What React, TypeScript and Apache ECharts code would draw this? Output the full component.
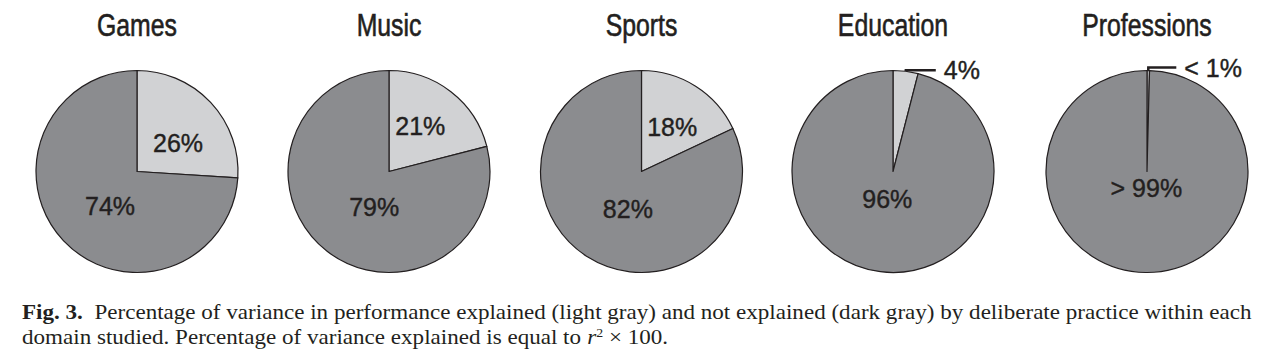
import React, { useEffect, useRef } from "react";
import * as echarts from "echarts";

// ---- data ----
const domains = ["Games", "Music", "Sports", "Education", "Professions"];
const explained = [26, 21, 18, 4, 0.4];
const unexplained = [74, 79, 82, 96, 99.6];
const explainedLabels = ["26%", "21%", "18%", "4%", "< 1%"];
const unexplainedLabels = ["74%", "79%", "82%", "96%", "> 99%"];
const captionBold = "Fig. 3.";
const captionLine1 =
  "Percentage of variance in performance explained (light gray) and not explained (dark gray) by deliberate practice within each";
const captionLine2a = "domain studied. Percentage of variance explained is equal to ";
const captionLine2b = " × 100.";

// ---- layout / style ----
const centersX = [137, 389, 641.5, 893, 1147];
const centerY = 171.5;
const radius = 101;
const outsideIdx = [false, false, false, true, true];
// label nudges relative to ECharts "inside" position
const lightNudge: [number, number][] = [[2, 8], [-1.5, -3], [2, 1], [0, 0], [0, 0]];
const darkNudge: [number, number][] = [[12, -2], [18, -7], [15, -8], [1, -26], [0, -37]];
const lineLen: [number, number][] = [[0, 0], [0, 0], [0, 0], [1, 30], [3, 28]];

const DARK = "#8b8c8f";
const LIGHT = "#d1d2d4";
const INK = "#231f20";
const SANS = "'Liberation Sans', Arial, Helvetica, sans-serif";
const SERIF = "'Liberation Serif', 'Times New Roman', serif";
const CAP_SIZE = 20;
const CAP_LEFT = 22;
const CAP_RIGHT = 1252;

function captionScale(): number {
  try {
    const ctx = document.createElement("canvas").getContext("2d");
    if (!ctx) return 1.15;
    ctx.font = `bold ${CAP_SIZE}px ${SERIF}`;
    const w1 = ctx.measureText(captionBold).width;
    ctx.font = `${CAP_SIZE}px ${SERIF}`;
    const w2 = ctx.measureText("  " + captionLine1).width;
    return (CAP_RIGHT - CAP_LEFT) / (w1 + w2);
  } catch (e) {
    return 1.15;
  }
}

export default function App() {
  const ref = useRef<HTMLDivElement>(null);
  useEffect(() => {
    if (!ref.current) return;
    const chart = echarts.init(ref.current, null, { renderer: "svg" });
    const capScale = captionScale();

    const series = domains.map((d, i) => {
      const out = outsideIdx[i];
      return {
        type: "pie",
        name: d,
        center: [centersX[i], centerY],
        radius: radius,
        startAngle: 90,
        clockwise: true,
        avoidLabelOverlap: false,
        silent: true,
        emphasis: { disabled: true },
        itemStyle: { borderColor: INK, borderWidth: 1.2 },
        label: {
          show: true,
          position: "inside",
          color: INK,
          fontFamily: SANS,
          fontSize: 25,
          textBorderColor: INK,
          textBorderWidth: 0.4,
        },
        labelLine: { show: false },
        labelLayout: (p: any) => {
          if (p.dataIndex === 0) {
            if (out) return {};
            return { dx: lightNudge[i][0], dy: lightNudge[i][1] };
          }
          return { dx: darkNudge[i][0], dy: darkNudge[i][1] };
        },
        data: [
          {
            value: explained[i],
            name: explainedLabels[i],
            itemStyle: { color: LIGHT },
            label: out
              ? { position: "outside", distanceToLabelLine: 8, formatter: explainedLabels[i] }
              : { formatter: explainedLabels[i] },
            labelLine: out
              ? {
                  show: true,
                  length: lineLen[i][0],
                  length2: lineLen[i][1],
                  smooth: false,
                  lineStyle: { color: INK, width: 2.5 },
                }
              : { show: false },
          },
          {
            value: unexplained[i],
            name: unexplainedLabels[i],
            itemStyle: { color: DARK },
            label: { formatter: unexplainedLabels[i] },
          },
        ],
      };
    });

    const titleTexts = domains.map((d, i) => ({
      type: "text",
      x: centersX[i],
      y: 10,
      scaleX: 0.8,
      silent: true,
      style: {
        text: d,
        textAlign: "center",
        textVerticalAlign: "top",
        font: `31px ${SANS}`,
        fill: INK,
        stroke: INK,
        lineWidth: 0.6,
      },
    }));

    chart.setOption({
      animation: false,
      backgroundColor: "#ffffff",
      series,
      graphic: [
        ...titleTexts,
        {
          type: "text",
          x: CAP_LEFT,
          y: 303,
          scaleX: capScale,
          silent: true,
          style: {
            text: "{b|" + captionBold + "}  " + captionLine1,
            fill: INK,
            font: `${CAP_SIZE}px ${SERIF}`,
            textVerticalAlign: "top",
            rich: {
              b: { fontWeight: "bold", fontFamily: SERIF, fontSize: CAP_SIZE, fill: INK },
            },
          },
        },
        {
          type: "text",
          x: CAP_LEFT,
          y: 327,
          scaleX: capScale,
          silent: true,
          style: {
            text: captionLine2a + "{i|r}{sup|2}" + captionLine2b,
            fill: INK,
            font: `${CAP_SIZE}px ${SERIF}`,
            textVerticalAlign: "top",
            rich: {
              i: { fontStyle: "italic", fontFamily: SERIF, fontSize: CAP_SIZE, fill: INK },
              sup: { fontFamily: SERIF, fontSize: 12, fill: INK, padding: [0, 0, 10, 0] },
            },
          },
        },
      ],
    });
    return () => chart.dispose();
  }, []);
  return (
    <div
      ref={ref}
      style={{ position: "fixed", left: 0, top: 0, width: 1272, height: 364, background: "#fff" }}
    />
  );
}
